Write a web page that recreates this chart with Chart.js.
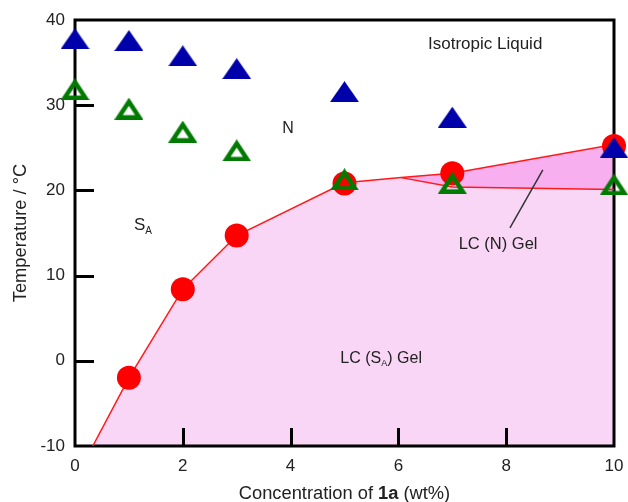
<!DOCTYPE html>
<html>
<head>
<meta charset="utf-8">
<script src="https://cdn.jsdelivr.net/npm/chart.js@4.4.1/dist/chart.umd.min.js"></script>
<style>
  html, body { margin: 0; padding: 0; background: #fff; }
  #wrap { width: 628px; height: 502px; position: relative; }
</style>
</head>
<body>
<div id="wrap"><canvas id="grafico" width="628" height="502"></canvas></div>
<script>
const conc = [0, 1, 2, 3, 5, 7, 10];
const tIso = [37.8, 37.6, 35.8, 34.3, 31.6, 28.6, 25.0];   // triangulos cheios (azul)
const tNem = [31.9, 29.6, 26.9, 24.7, 21.3, 20.9, 20.7];   // triangulos abertos (verde)
const concGel = [1, 2, 3, 5, 7, 10];
const tGel = [-2.0, 8.4, 14.7, 20.8, 22.0, 25.2];          // circulos (vermelho)
const bordaX = [0.33, 1, 2, 3, 5, 6.05, 7, 10];
const bordaY = [-10, -2, 8.4, 14.7, 20.9, 21.5, 22.0, 25.4];
const nGelX = [6.05, 7, 10];
const nGelY = [21.5, 20.4, 20.1];
const xTicks = [0, 2, 4, 6, 8, 10];
const yTicks = [-10, 0, 10, 20, 30, 40];

const FONTE = '"Liberation Sans", Arial, sans-serif';
const TXT = '#222';

function pontos(xs, ys) {
    return xs.map((x, i) => ({ x: x, y: ys[i] }));
}

function triangulo(w, h, cor, esp) {
    const c = document.createElement('canvas');
    c.width = w; c.height = h;
    const g = c.getContext('2d');
    const P = [[w / 2, 0], [w, h], [0, h]];
    g.fillStyle = cor;
    g.beginPath();
    g.moveTo(P[0][0], P[0][1]); g.lineTo(P[1][0], P[1][1]); g.lineTo(P[2][0], P[2][1]);
    g.closePath();
    g.fill();
    if (esp) {
        // triangulo interno (escala em torno do incentro)
        const lado = (a, b) => Math.hypot(a[0] - b[0], a[1] - b[1]);
        const la = lado(P[1], P[2]), lb = lado(P[0], P[2]), lc = lado(P[0], P[1]);
        const per = la + lb + lc;
        const ix = (la * P[0][0] + lb * P[1][0] + lc * P[2][0]) / per;
        const iy = (la * P[0][1] + lb * P[1][1] + lc * P[2][1]) / per;
        const r = (w * h / 2) / (per / 2);
        const k = (r - esp) / r;
        g.globalCompositeOperation = 'destination-out';
        g.beginPath();
        P.forEach((p, i) => {
            const x = ix + (p[0] - ix) * k, y = iy + (p[1] - iy) * k;
            if (i === 0) g.moveTo(x, y); else g.lineTo(x, y);
        });
        g.closePath();
        g.fill();
    }
    return c;
}

const triAzul = triangulo(29, 21, '#0000aa', 0);
const triVerde = triangulo(29, 22, '#007a00', 4.5);

// rotulos das regioes (em coordenadas dos dados)
const rotulos = [
    { t: 'Isotropic Liquid', x: 7.61, y: 37.2, size: 17 },
    { t: 'N', x: 3.95, y: 27.3, size: 16 },
    { t: 'S', sub: 'A', x: 1.26, y: 15.9, size: 17 },
    { t: 'LC (N) Gel', x: 7.85, y: 13.7, size: 16.5 },
    { t: 'LC (S', sub: 'A', fim: ') Gel', x: 5.68, y: 0.3, size: 16 }
];

const moldura = {
    id: 'moldura',
    beforeDatasetsDraw(chart) {
        const ctx = chart.ctx;
        const a = chart.chartArea;
        const sx = chart.scales.x, sy = chart.scales.y;
        ctx.save();
        ctx.strokeStyle = '#000';
        ctx.lineWidth = 3;
        ctx.lineCap = 'butt';
        ctx.beginPath();
        xTicks.slice(1, -1).forEach(v => {
            const px = Math.round(sx.getPixelForValue(v)) + 0.5;
            ctx.moveTo(px, a.bottom);
            ctx.lineTo(px, a.bottom - 18);
        });
        yTicks.slice(1, -1).forEach(v => {
            const py = Math.round(sy.getPixelForValue(v)) + 0.5;
            ctx.moveTo(a.left, py);
            ctx.lineTo(a.left + 19, py);
        });
        ctx.stroke();
        ctx.lineJoin = 'miter';
        ctx.strokeRect(a.left, a.top, a.right - a.left, a.bottom - a.top);
        ctx.restore();
    },
    afterDatasetsDraw(chart) {
        const ctx = chart.ctx;
        const sx = chart.scales.x, sy = chart.scales.y;
        ctx.save();
        // linha indicadora LC (N) Gel
        ctx.strokeStyle = '#333';
        ctx.lineWidth = 1.5;
        ctx.beginPath();
        ctx.moveTo(sx.getPixelForValue(8.68), sy.getPixelForValue(22.4));
        ctx.lineTo(sx.getPixelForValue(8.07), sy.getPixelForValue(15.6));
        ctx.stroke();

        ctx.fillStyle = TXT;
        ctx.textBaseline = 'middle';
        rotulos.forEach(r => {
            const f1 = r.size + 'px ' + FONTE;
            const f2 = Math.round(r.size * 0.58) + 'px ' + FONTE;
            ctx.font = f1;
            let w = ctx.measureText(r.t).width;
            let wsub = 0, wfim = 0;
            if (r.sub) { ctx.font = f2; wsub = ctx.measureText(r.sub).width; }
            if (r.fim) { ctx.font = f1; wfim = ctx.measureText(r.fim).width; }
            let px = sx.getPixelForValue(r.x) - (w + wsub + wfim) / 2;
            const py = sy.getPixelForValue(r.y);
            ctx.textAlign = 'left';
            ctx.font = f1;
            ctx.fillText(r.t, px, py);
            px += w;
            if (r.sub) {
                ctx.font = f2;
                ctx.fillText(r.sub, px, py + r.size * 0.33);
                px += wsub;
            }
            if (r.fim) {
                ctx.font = f1;
                ctx.fillText(r.fim, px, py);
            }
        });

        // titulo do eixo x com "1a" em negrito
        const partes = [['Concentration of ', ''], ['1a', 'bold '], [' (wt%)', '']];
        let total = 0;
        partes.forEach(p => { ctx.font = p[1] + '18.3px ' + FONTE; total += ctx.measureText(p[0]).width; });
        let tx = (chart.chartArea.left + chart.chartArea.right) / 2 - total / 2;
        ctx.textBaseline = 'middle';
        partes.forEach(p => {
            ctx.font = p[1] + '18.3px ' + FONTE;
            ctx.fillText(p[0], tx, 493.5);
            tx += ctx.measureText(p[0]).width;
        });
        ctx.restore();
    }
};

const ctx = document.getElementById('grafico').getContext('2d');
new Chart(ctx, {
    type: 'scatter',
    data: {
        datasets: [{
            label: 'Tiso',
            data: pontos(conc, tIso),
            pointStyle: triAzul,
            order: 1,
            clip: false
        }, {
            label: 'TN',
            data: pontos(conc, tNem),
            pointStyle: triVerde,
            order: 2,
            clip: false
        }, {
            label: 'Tgel',
            data: pontos(concGel, tGel),
            pointStyle: 'circle',
            pointRadius: 12,
            backgroundColor: '#ff0000',
            borderWidth: 0,
            order: 3,
            clip: false
        }, {
            label: 'borda',
            type: 'line',
            data: pontos(bordaX, bordaY),
            borderColor: '#ff1a1a',
            borderWidth: 1.5,
            pointRadius: 0,
            tension: 0,
            fill: 'start',
            backgroundColor: '#f9d6f6',
            order: 10
        }, {
            label: 'nGel',
            type: 'line',
            data: pontos(nGelX, nGelY),
            borderColor: '#ff1a1a',
            borderWidth: 1.5,
            pointRadius: 0,
            tension: 0,
            fill: { target: 3, above: '#f8aff0', below: '#f8aff0' },
            backgroundColor: '#f8aff0',
            order: 9
        }]
    },
    options: {
        responsive: false,
        animation: false,
        layout: { padding: { top: 20, right: 14, left: 0, bottom: 0 } },
        plugins: {
            legend: { display: false },
            tooltip: { enabled: false },
            filler: { drawTime: 'beforeDatasetsDraw' }
        },
        scales: {
            x: {
                type: 'linear',
                min: 0, max: 10,
                afterBuildTicks: s => { s.ticks = xTicks.map(v => ({ value: v })); },
                afterFit: s => { s.height = 56; s.paddingLeft = 0; s.paddingRight = 0; },
                grid: { display: false, drawTicks: false },
                border: { display: false },
                ticks: { color: TXT, padding: 10, font: { family: FONTE, size: 17 } }
            },
            y: {
                min: -10, max: 40,
                afterBuildTicks: s => { s.ticks = yTicks.map(v => ({ value: v })); },
                afterFit: s => { s.width = 75; s.paddingTop = 0; s.paddingBottom = 0; },
                grid: { display: false, drawTicks: false },
                border: { display: false },
                ticks: { color: TXT, padding: 10, font: { family: FONTE, size: 17 } },
                title: { display: true, text: 'Temperature / °C', color: TXT, padding: { top: 10, bottom: 0 }, font: { family: FONTE, size: 18.3 } }
            }
        }
    },
    plugins: [moldura]
});
</script>
</body>
</html>
